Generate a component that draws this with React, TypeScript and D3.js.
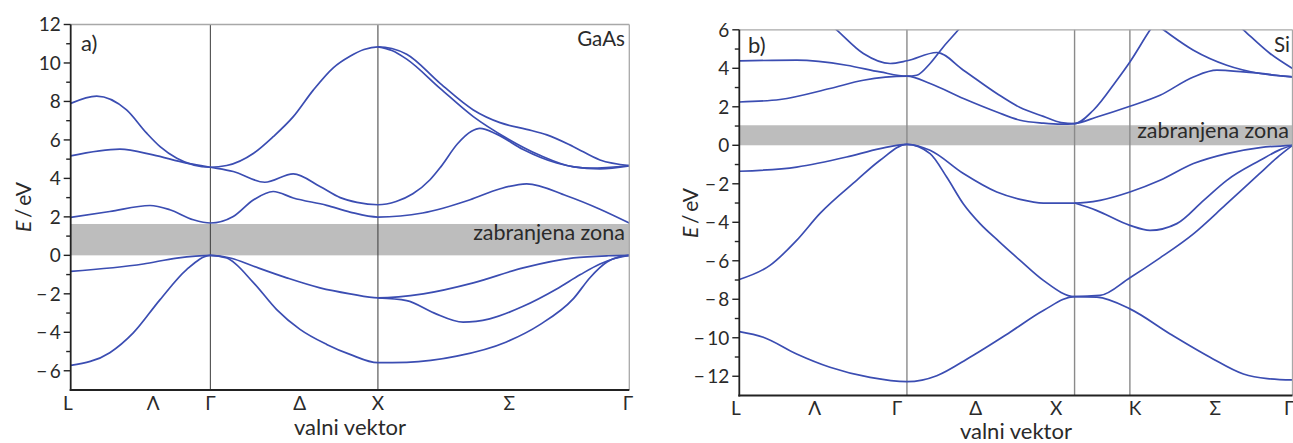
import React from "react";
import * as d3 from "d3";

type Pt = [number, number];

// ---------------- GaAs (panel a) ----------------
const gaasKDomain: Pt = [0, 4];
const gaasEDomain: Pt = [-7, 12];
const gaasSymK = [1.0, 2.2];
const gaasGap: Pt = [0, 1.63];
const gaasLabelNames = ["L", "Λ", "Γ", "Δ", "X", "Σ", "Γ"];
const gaasLabelPos = [-0.02, 0.59, 1.0, 1.64, 2.2, 3.14, 3.99];
const gaasMajorTicks = [-6, -4, -2, 0, 2, 4, 6, 8, 10, 12];
const gaasMinorTicks = [-5, -3, -1, 1, 3, 5, 7, 9, 11];

const gaasValence1: Pt[] = [
  [0, -5.72], [0.28, -5.06], [0.448, -4.03], [0.64, -2.3], [0.83, -0.74], [1.0, 0.0],
  [1.117, -0.14], [1.31, -1.43], [1.475, -2.82], [1.642, -3.85], [1.833, -4.63], [2.0, -5.15],
  [2.2, -5.58], [2.406, -5.56], [2.764, -5.24], [3.12, -4.5], [3.36, -3.6], [3.6, -2.25],
  [3.72, -1.15], [3.84, -0.35], [3.94, -0.05], [4.0, 0],
];
const gaasValence2: Pt[] = [
  [0, -0.83], [0.52, -0.45], [0.76, -0.14], [1.0, 0], [1.15, -0.15], [1.31, -0.57],
  [1.547, -1.17], [1.785, -1.69], [2.0, -2.0], [2.2, -2.21], [2.525, -2.0], [2.883, -1.43],
  [3.24, -0.65], [3.6, -0.13], [3.85, -0.02], [4.0, 0],
];
const gaasValence3: Pt[] = [
  [2.2, -2.21], [2.406, -2.35], [2.6, -2.99], [2.81, -3.47], [3.0, -3.3], [3.24, -2.65],
  [3.48, -1.75], [3.65, -1.0], [3.79, -0.45], [3.9, -0.15], [4.0, 0],
];
const gaasCond1: Pt[] = [
  [0, 1.97], [0.28, 2.28], [0.568, 2.59], [0.71, 2.37], [0.878, 1.85], [1.0, 1.68],
  [1.164, 2.02], [1.31, 2.89], [1.45, 3.32], [1.594, 2.98], [1.833, 2.6], [2.0, 2.25],
  [2.2, 1.99], [2.52, 2.2], [2.86, 2.89], [3.07, 3.45], [3.265, 3.72], [3.55, 3.1],
  [3.79, 2.4], [4.0, 1.68],
];
const gaasCond2: Pt[] = [
  [0, 5.17], [0.353, 5.52], [0.59, 5.22], [0.83, 4.79], [1.0, 4.58], [1.164, 4.36],
  [1.39, 3.8], [1.594, 4.24], [1.785, 3.58], [1.93, 3.0], [2.05, 2.75], [2.2, 2.63],
  [2.33, 2.8], [2.45, 3.2], [2.573, 3.93], [2.65, 4.6], [2.77, 5.8], [2.87, 6.45],
  [2.93, 6.6], [3.05, 6.3], [3.24, 5.5], [3.48, 4.8], [3.72, 4.53], [4.0, 4.67],
];
const gaasCond3: Pt[] = [
  [0, 7.9], [0.186, 8.28], [0.4, 7.56], [0.544, 6.35], [0.64, 5.65], [0.76, 5.05],
  [1.0, 4.58], [1.117, 4.67], [1.31, 5.31], [1.45, 6.17], [1.594, 7.21], [1.737, 8.59],
  [1.88, 9.75], [2.0, 10.35], [2.1, 10.7], [2.2, 10.84], [2.3, 10.75], [2.406, 10.45],
  [2.645, 8.94], [2.883, 7.56], [3.074, 6.9], [3.265, 6.55], [3.41, 6.26], [3.6, 5.65],
  [3.79, 4.96], [4.0, 4.67],
];
const gaasCond4: Pt[] = [
  [2.2, 10.84], [2.3, 10.65], [2.406, 10.2], [2.645, 8.68], [2.883, 7.21], [3.12, 6.1],
  [3.36, 5.2], [3.6, 4.6], [3.79, 4.5], [4.0, 4.65],
];

// ---------------- Si (panel b) ----------------
const siKDomain: Pt = [0, 3.3];
const siEDomain: Pt = [-13, 6];
const siSymK = [1.0, 2.0, 2.33];
const siGap: Pt = [0, 1.04];
const siLabelNames = ["L", "Λ", "Γ", "Δ", "X", "K", "Σ", "Γ"];
const siLabelPos = [-0.02, 0.45, 0.94, 1.41, 1.89, 2.36, 2.84, 3.28];
const siMajorTicks = [-12, -10, -8, -6, -4, -2, 0, 2, 4, 6];
const siMinorTicks = [-11, -9, -7, -5, -3, -1, 1, 3, 5];

const siValence1: Pt[] = [
  [0, -9.68], [0.143, -9.97], [0.342, -10.84], [0.541, -11.53], [0.78, -12.06], [1.0, -12.28],
  [1.09, -12.2], [1.178, -11.97], [1.376, -11.01], [1.615, -9.71], [1.814, -8.58], [2.0, -7.86],
  [2.133, -7.89], [2.33, -8.5], [2.57, -9.8], [2.808, -11.01], [3.007, -11.88], [3.15, -12.12],
  [3.3, -12.19],
];
const siValence2: Pt[] = [
  [0, -6.97], [0.183, -6.24], [0.342, -4.94], [0.48, -3.55], [0.7, -1.82], [0.84, -0.78],
  [1.0, 0.05], [1.138, -0.43], [1.237, -1.65], [1.337, -3.05], [1.436, -4.07], [1.55, -5.0],
  [1.675, -5.98], [1.814, -7.02], [2.0, -7.86], [2.152, -7.8], [2.33, -6.88], [2.51, -5.85],
  [2.709, -4.6], [2.9, -3.1], [3.1, -1.5], [3.22, -0.55], [3.3, 0],
];
const siValence3: Pt[] = [
  [0, -1.35], [0.342, -1.13], [0.64, -0.61], [0.84, -0.17], [1.0, 0.05], [1.138, -0.26],
  [1.337, -1.47], [1.536, -2.43], [1.675, -2.81], [1.814, -3.0], [2.0, -3.0], [2.152, -2.86],
  [2.33, -2.43], [2.51, -1.82], [2.709, -0.95], [2.908, -0.43], [3.107, -0.12], [3.3, 0],
];
const siValence4: Pt[] = [
  [2.0, -3.0], [2.13, -3.38], [2.33, -4.16], [2.45, -4.42], [2.61, -4.07], [2.77, -2.86],
  [2.908, -1.82], [3.107, -0.78], [3.22, -0.25], [3.3, 0],
];
const siCond1: Pt[] = [
  [0, 2.25], [0.243, 2.38], [0.541, 2.95], [0.74, 3.38], [1.0, 3.59], [1.138, 3.21],
  [1.337, 2.43], [1.536, 1.73], [1.675, 1.3], [1.814, 1.15], [1.92, 1.1], [2.0, 1.13],
  [2.133, 1.47], [2.33, 2.03], [2.51, 2.6], [2.709, 3.55], [2.849, 3.9], [3.007, 3.81],
  [3.3, 3.55],
];
const siCond2: Pt[] = [
  [0, 4.39], [0.342, 4.42], [0.64, 4.16], [0.84, 3.81], [1.0, 3.59], [1.058, 3.64],
  [1.138, 4.25], [1.217, 5.11], [1.307, 6.0], [1.4, 7.0],
];
const siCond3: Pt[] = [
  [0.5, 6.6], [0.58, 6.0], [0.74, 4.77], [0.9, 4.25], [1.0, 4.39], [1.178, 4.82],
  [1.337, 3.9], [1.536, 2.69], [1.675, 1.96], [1.814, 1.5], [1.92, 1.18], [2.0, 1.13],
  [2.112, 1.82], [2.252, 3.38], [2.33, 4.33], [2.451, 6.0], [2.55, 7.2],
];
const siCond4: Pt[] = [
  [2.45, 6.5], [2.53, 6.0], [2.709, 4.94], [2.908, 4.16], [3.107, 3.73], [3.3, 3.55],
];
const siCond5: Pt[] = [
  [2.95, 6.45], [3.007, 6.0], [3.166, 4.77], [3.3, 3.99],
];

const gaasBands = [gaasValence1, gaasValence2, gaasValence3, gaasCond1, gaasCond2, gaasCond3, gaasCond4];
const siBands = [siValence1, siValence2, siValence3, siValence4, siCond1, siCond2, siCond3, siCond4, siCond5];

const FONT = "Lato, 'Open Sans', 'DejaVu Sans', sans-serif";
const BLUE = "#3b4db2";
const TEXT = "#2a2a2a";

function fmt(v: number) {
  return v < 0 ? "\u2212\u2009" + Math.abs(v) : String(v);
}

type PanelProps = {
  id: string;
  bands: Pt[][];
  kDomain: Pt;
  eDomain: Pt;
  xRange: Pt;
  yRange: Pt;
  symK: number[];
  symColor: string;
  symWidth: number;
  gap: Pt;
  labelNames: string[];
  labelPos: number[];
  labelBaseline: number;
  titleBaseline: number;
  majorTicks: number[];
  minorTicks: number[];
  tag: string;
  tagPos: Pt;
  material: string;
  materialPos: Pt;
  gapTextPos: Pt;
  yLabelPos: Pt;
};

function Panel(p: PanelProps) {
  const x = d3.scaleLinear().domain(p.kDomain).range(p.xRange);
  const y = d3.scaleLinear().domain(p.eDomain).range(p.yRange);
  const line = d3
    .line<Pt>()
    .x((d) => x(d[0]))
    .y((d) => y(d[1]))
    .curve(d3.curveMonotoneX);
  const [x0, x1] = p.xRange;
  const [yb, yt] = p.yRange;
  const clipId = "clip-" + p.id;
  return (
    <g>
      <defs>
        <clipPath id={clipId}>
          <rect x={x0} y={yt} width={x1 - x0} height={yb - yt} />
        </clipPath>
      </defs>
      <rect
        x={x0}
        y={y(p.gap[1])}
        width={x1 - x0}
        height={y(p.gap[0]) - y(p.gap[1])}
        fill="#bdbdbd"
      />
      {p.symK.map((k, i) => (
        <line key={i} x1={x(k)} x2={x(k)} y1={yt} y2={yb} stroke={p.symColor} strokeWidth={p.symWidth} />
      ))}
      <text
        x={p.gapTextPos[0]}
        y={p.gapTextPos[1]}
        textAnchor="end"
        fontFamily={FONT}
        fontSize={21.5}
        fill={TEXT}
      >
        zabranjena zona
      </text>
      <g clipPath={`url(#${clipId})`}>
        {p.bands.map((b, i) => (
          <path key={i} d={line(b) || ""} fill="none" stroke={BLUE} strokeWidth={1.7} />
        ))}
      </g>
      {/* frame */}
      <line x1={x0} x2={x1} y1={yt} y2={yt} stroke="#a8a8a8" strokeWidth={1.3} />
      <line x1={x1} x2={x1} y1={yt} y2={yb} stroke="#a8a8a8" strokeWidth={1.3} />
      <line x1={x0} x2={x0} y1={yt} y2={yb + 1} stroke="#222" strokeWidth={1.8} />
      <line x1={x0 - 1} x2={x1} y1={yb} y2={yb} stroke="#222" strokeWidth={2} />
      {/* ticks */}
      {p.majorTicks.map((t) => (
        <g key={"M" + t}>
          <line x1={x0 - 7} x2={x0} y1={y(t)} y2={y(t)} stroke="#222" strokeWidth={1.4} />
          <text
            x={x0 - 10}
            y={y(t)}
            dy="0.36em"
            textAnchor="end"
            fontFamily={FONT}
            fontSize={19}
            fill={TEXT}
          >
            {fmt(t)}
          </text>
        </g>
      ))}
      {p.minorTicks.map((t) => (
        <line key={"m" + t} x1={x0 - 4.5} x2={x0} y1={y(t)} y2={y(t)} stroke="#222" strokeWidth={1.4} />
      ))}
      {/* k labels */}
      {p.labelNames.map((n, i) => (
        <text
          key={"k" + i}
          x={x(p.labelPos[i])}
          y={p.labelBaseline}
          textAnchor="middle"
          fontFamily={FONT}
          fontSize={19}
          fill={TEXT}
        >
          {n}
        </text>
      ))}
      <text
        x={(x0 + x1) / 2}
        y={p.titleBaseline}
        textAnchor="middle"
        fontFamily={FONT}
        fontSize={22}
        fill={TEXT}
      >
        valni vektor
      </text>
      <text
        transform={`translate(${p.yLabelPos[0]},${p.yLabelPos[1]}) rotate(-90)`}
        textAnchor="middle"
        fontFamily={FONT}
        fontSize={21}
        fill={TEXT}
      >
        <tspan fontStyle="italic">E</tspan>
        <tspan>{"\u2009/\u2009eV"}</tspan>
      </text>
      <text x={p.tagPos[0]} y={p.tagPos[1]} fontFamily={FONT} fontSize={22} fill={TEXT}>
        {p.tag}
      </text>
      <text
        x={p.materialPos[0]}
        y={p.materialPos[1]}
        textAnchor="end"
        fontFamily={FONT}
        fontSize={20.5}
        fill={TEXT}
      >
        {p.material}
      </text>
    </g>
  );
}

export default function App() {
  return (
    <svg
      width={1293}
      height={443}
      style={{ position: "absolute", left: 0, top: 0, display: "block", background: "#fff" }}
    >
      <rect x={0} y={0} width={1293} height={443} fill="#fff" />
      <Panel
        id="gaas"
        bands={gaasBands}
        kDomain={gaasKDomain}
        eDomain={gaasEDomain}
        xRange={[70.7, 629.3]}
        yRange={[390, 24.5]}
        symK={gaasSymK}
        symColor="#3a3a3a"
        symWidth={1}
        gap={gaasGap}
        labelNames={gaasLabelNames}
        labelPos={gaasLabelPos}
        labelBaseline={409.5}
        titleBaseline={435}
        majorTicks={gaasMajorTicks}
        minorTicks={gaasMinorTicks}
        tag="a)"
        tagPos={[81, 51]}
        material="GaAs"
        materialPos={[625, 46]}
        gapTextPos={[625, 240]}
        yLabelPos={[31, 207]}
      />
      <Panel
        id="si"
        bands={siBands}
        kDomain={siKDomain}
        eDomain={siEDomain}
        xRange={[739.3, 1292.5]}
        yRange={[395.5, 29.8]}
        symK={siSymK}
        symColor="#8a8a8a"
        symWidth={1.4}
        gap={siGap}
        labelNames={siLabelNames}
        labelPos={siLabelPos}
        labelBaseline={415}
        titleBaseline={439}
        majorTicks={siMajorTicks}
        minorTicks={siMinorTicks}
        tag="b)"
        tagPos={[748, 53]}
        material="Si"
        materialPos={[1290, 52]}
        gapTextPos={[1289, 138]}
        yLabelPos={[698, 213]}
      />
    </svg>
  );
}
